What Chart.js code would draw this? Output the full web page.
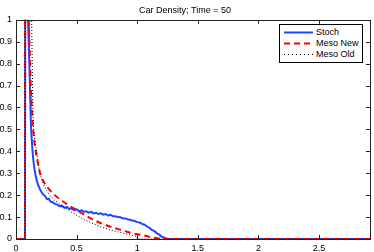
<!DOCTYPE html>
<html>
<head>
<meta charset="utf-8">
<script src="https://cdn.jsdelivr.net/npm/chart.js@4"></script>
<style>
  html, body { margin: 0; padding: 0; background: #fff; }
  #wrap { position: relative; width: 374px; height: 252px; }
  #legend {
    position: absolute; left: 279px; top: 24px; width: 84px; height: 39px;
    box-sizing: border-box; border: 1px solid #000; background: #fff;
    font: 9px 'Liberation Sans', Arial, sans-serif; color: #000;
  }
  .row { position: absolute; left: 0; height: 11px; line-height: 11px; }
  .row svg { position: absolute; left: 4px; top: 0; }
  .row span { position: absolute; left: 36px; top: 0; white-space: nowrap; }
</style>
</head>
<body>
<div id="wrap">
  <canvas id="chart" width="374" height="252"></canvas>
  <div id="legend">
    <div class="row" style="top:2px"><svg width="30" height="11"><line x1="0" y1="5.5" x2="29" y2="5.5" stroke="#2046ff" stroke-width="2"/></svg><span>Stoch</span></div>
    <div class="row" style="top:13px"><svg width="30" height="11"><line x1="0" y1="5.5" x2="29" y2="5.5" stroke="#ff0000" stroke-width="2" stroke-dasharray="6 4"/></svg><span>Meso New</span></div>
    <div class="row" style="top:24px"><svg width="30" height="11"><line x1="0" y1="5.5" x2="29" y2="5.5" stroke="#000" stroke-width="1" stroke-dasharray="1 3"/></svg><span>Meso Old</span></div>
  </div>
</div>
<script>
const FONT = "'Liberation Sans', Arial, sans-serif";

const xTicks = [0, 0.5, 1, 1.5, 2, 2.5];
const yTicks = [0, 0.1, 0.2, 0.3, 0.4, 0.5, 0.6, 0.7, 0.8, 0.9, 1];

// Stoch (noisy simulation)
const stochX = [
  0, 0.074, 0.076, 0.094, 0.101, 0.107, 0.112, 0.117, 0.121, 0.126,
  0.135, 0.143, 0.152, 0.162, 0.172, 0.185, 0.197, 0.210, 0.225, 0.240,
  0.255, 0.270, 0.285, 0.300, 0.320, 0.340, 0.360, 0.380, 0.400, 0.420,
  0.44, 0.46, 0.48, 0.50, 0.52, 0.54, 0.56, 0.58, 0.60, 0.62,
  0.64, 0.66, 0.68, 0.70, 0.72, 0.74, 0.76, 0.78, 0.80, 0.82,
  0.84, 0.86, 0.88, 0.90, 0.92, 0.94, 0.96, 0.98, 1.00, 1.02,
  1.04, 1.06, 1.08, 1.10, 1.12, 1.14, 1.16, 1.18, 1.20, 1.22,
  1.24, 1.26, 1.30, 2.92
];
const stochY = [
  0, 0, 1.3, 1.1, 0.97, 0.86, 0.76, 0.65, 0.56, 0.49,
  0.41, 0.36, 0.32, 0.29, 0.265, 0.243, 0.228, 0.214, 0.203, 0.196,
  0.182, 0.184, 0.170, 0.168, 0.160, 0.157, 0.150, 0.151, 0.142, 0.146,
  0.137, 0.139, 0.132, 0.135, 0.127, 0.131, 0.124, 0.126, 0.120, 0.124,
  0.117, 0.120, 0.114, 0.117, 0.111, 0.114, 0.107, 0.110, 0.104, 0.104,
  0.100, 0.099, 0.095, 0.094, 0.090, 0.088, 0.084, 0.082, 0.077, 0.075,
  0.069, 0.065, 0.057, 0.051, 0.042, 0.037, 0.027, 0.021, 0.011, 0.007,
  0.002, 0, 0, 0
];

// Meso New
const mesoNewX = [
  0, 0.074, 0.076, 0.100, 0.108, 0.115, 0.122, 0.130, 0.140, 0.150,
  0.160, 0.172, 0.185, 0.198, 0.215, 0.235, 0.254, 0.280, 0.308, 0.340,
  0.391, 0.44, 0.50, 0.56, 0.639, 0.70, 0.777, 0.85, 0.915, 0.98,
  1.052, 1.10, 1.163, 1.20, 2.92
];
const mesoNewY = [
  0, 0, 1.3, 1.1, 0.95, 0.82, 0.70, 0.60, 0.51, 0.45,
  0.41, 0.37, 0.335, 0.30, 0.275, 0.255, 0.239, 0.222, 0.207, 0.19,
  0.17, 0.151, 0.132, 0.112, 0.087, 0.072, 0.056, 0.044, 0.033, 0.024,
  0.017, 0.010, 0.003, 0, 0
];

// Meso Old
const mesoOldX = [
  0, 0.074, 0.076, 0.128, 0.132, 0.136, 0.140, 0.146, 0.155, 0.171,
  0.184, 0.200, 0.226, 0.250, 0.281, 0.320, 0.364, 0.45, 0.556, 0.694,
  0.777, 0.86, 0.93, 0.969, 0.998, 1.0, 2.92
];
const mesoOldY = [
  0, 0, 1.4, 1.05, 0.88, 0.72, 0.58, 0.50, 0.45, 0.40,
  0.34, 0.295, 0.25, 0.222, 0.197, 0.176, 0.158, 0.125, 0.09, 0.056,
  0.041, 0.03, 0.02, 0.015, 0.012, 0, 0
];

const pts = (xs, ys) => xs.map((x, i) => ({ x, y: ys[i] }));

// MATLAB style box with inward ticks on all four sides
const boxTicks = {
  id: 'boxTicks',
  afterDraw(chart) {
    const { ctx, chartArea: a, scales: { x, y } } = chart;
    const len = 4;
    ctx.save();
    ctx.strokeStyle = '#222';
    ctx.lineWidth = 1;
    ctx.beginPath();
    x.ticks.forEach(t => {
      const px = Math.round(x.getPixelForValue(t.value)) + 0.5;
      ctx.moveTo(px, a.bottom); ctx.lineTo(px, a.bottom - len);
      ctx.moveTo(px, a.top); ctx.lineTo(px, a.top + len);
    });
    y.ticks.forEach(t => {
      const py = Math.round(y.getPixelForValue(t.value)) + 0.5;
      ctx.moveTo(a.left, py); ctx.lineTo(a.left + len, py);
      ctx.moveTo(a.right, py); ctx.lineTo(a.right - len, py);
    });
    ctx.stroke();
    ctx.strokeRect(Math.round(a.left) + 0.5, Math.round(a.top) + 0.5,
      Math.round(a.right - a.left), Math.round(a.bottom - a.top));
    ctx.restore();
  }
};

new Chart(document.getElementById('chart').getContext('2d'), {
  type: 'line',
  data: {
    datasets: [
      {
        label: 'Stoch',
        data: pts(stochX, stochY),
        borderColor: '#2046ff',
        borderWidth: 2,
        order: 3
      },
      {
        label: 'Meso New',
        data: pts(mesoNewX, mesoNewY),
        borderColor: '#ff0000',
        borderWidth: 2,
        borderDash: [6, 4],
        order: 2
      },
      {
        label: 'Meso Old',
        data: pts(mesoOldX, mesoOldY),
        borderColor: '#000',
        borderWidth: 1,
        borderDash: [1, 2],
        order: 1
      }
    ]
  },
  options: {
    responsive: false,
    animation: false,
    elements: { point: { radius: 0 }, line: { tension: 0, fill: false } },
    layout: { padding: { left: 0, right: 4, top: 0, bottom: 0 } },
    plugins: {
      legend: { display: false },
      tooltip: { enabled: false },
      title: {
        display: true,
        text: 'Car Density; Time = 50',
        color: '#000',
        font: { family: FONT, size: 9, weight: 'normal' },
        padding: { top: 5, bottom: 4 }
      }
    },
    scales: {
      x: {
        type: 'linear',
        min: 0,
        max: 2.92,
        afterBuildTicks: s => { s.ticks = xTicks.map(v => ({ value: v })); },
        afterFit: s => { s.height = 13; },
        grid: { display: false, drawTicks: false },
        border: { display: false },
        ticks: { padding: 4, color: '#000', font: { family: FONT, size: 9 }, callback: v => String(v) }
      },
      y: {
        type: 'linear',
        min: 0,
        max: 1,
        afterBuildTicks: s => { s.ticks = yTicks.map(v => ({ value: v })); },
        afterFit: s => { s.width = 16; },
        grid: { display: false, drawTicks: false },
        border: { display: false },
        ticks: { padding: 4, color: '#000', font: { family: FONT, size: 9 }, callback: v => String(v) }
      }
    }
  },
  plugins: [boxTicks]
});
</script>
</body>
</html>
